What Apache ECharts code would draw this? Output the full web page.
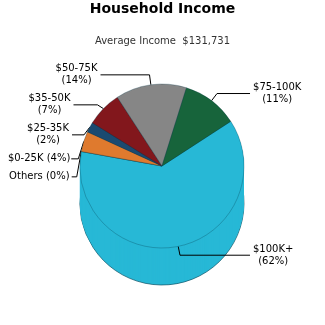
<!DOCTYPE html>
<html>
<head>
<meta charset="utf-8">
<script src="https://cdn.jsdelivr.net/npm/echarts@6/dist/echarts.min.js"></script>
<style>
  html, body { margin: 0; padding: 0; background: #ffffff; }
  #chart { width: 325px; height: 325px; }
</style>
</head>
<body>
<div id="chart"></div>
<script>
// Income brackets, in drawing order (clockwise from the upper right)
const categories = ['$100K+', 'Others', '$0-25K', '$25-35K', '$35-50K', '$50-75K', '$75-100K'];
const shares = [62, 0, 4, 2, 7, 14, 11];
const sliceColors = ['#27b8d6', '#9ab34a', '#df7a2e', '#1b4a70', '#82171c', '#868686', '#17643b'];
const chartTitle = 'Household Income';
const chartSubtitle = 'Average Income  $131,731';

const FONT = 'DejaVu Sans';
const cx = 162, cy = 166, radius = 82, depth = 37;

// leader line lengths per bracket: [radial part, horizontal part]
const leader = {
  '$100K+': [9, 70], 'Others': [4, 8], '$0-25K': [4, 8], '$25-35K': [4, 12],
  '$35-50K': [8, 24], '$50-75K': [10, 49], '$75-100K': [9, 33]
};
const oneLine = { 'Others': true, '$0-25K': true };

function sliceData(withLabels) {
  return categories.map((name, i) => {
    const item = { name: name, value: shares[i], itemStyle: { color: sliceColors[i] } };
    if (withLabels) {
      item.labelLine = { length: leader[name][0], length2: leader[name][1] };
    }
    return item;
  });
}

const series = [];
// Side wall: the same pie repeated at increasing depth, deepest first
for (let d = depth; d >= 1; d--) {
  const bottom = d === depth;
  series.push({
    type: 'pie',
    z: depth - d + 1,
    center: [cx, cy + d],
    radius: radius,
    startAngle: 33,
    clockwise: true,
    silent: true,
    animation: false,
    label: { show: false },
    labelLine: { show: false },
    itemStyle: bottom
      ? { borderColor: 'rgba(10,80,100,0.7)', borderWidth: 1 }
      : { borderWidth: 0 },
    data: sliceData(false)
  });
}
// Top face with labels
series.push({
  type: 'pie',
  z: depth + 2,
  center: [cx, cy],
  radius: radius,
  startAngle: 33,
  clockwise: true,
  animation: false,
  percentPrecision: 0,
  avoidLabelOverlap: true,
  itemStyle: { borderColor: 'rgba(0,50,70,0.35)', borderWidth: 0.8 },
  label: {
    show: true,
    position: 'outside',
    alignTo: 'none',
    overflow: 'none',
    distanceToLabelLine: 3,
    padding: [2, 0],
    color: '#000',
    fontFamily: FONT,
    fontSize: 10,
    lineHeight: 12,
    formatter: p => oneLine[p.name]
      ? `{t|${p.name} (${p.percent}%)}`
      : `{t|${p.name}}\n{t|(${p.percent}%)}`,
    rich: { t: { align: 'center', fontFamily: FONT, fontSize: 10, lineHeight: 12, color: '#000' } }
  },
  labelLine: { show: true, lineStyle: { color: '#000', width: 1 } },
  data: sliceData(true)
});

const chart = echarts.init(document.getElementById('chart'), null, { renderer: 'canvas' });
chart.setOption({
  backgroundColor: '#ffffff',
  animation: false,
  title: [
    { text: chartTitle, left: 'center', top: 2, padding: 0,
      textStyle: { fontFamily: FONT, fontSize: 14, fontWeight: 'bold', color: '#000' } },
    { text: chartSubtitle, left: 'center', top: 36, padding: 0,
      textStyle: { fontFamily: FONT, fontSize: 10, fontWeight: 'normal', color: '#333' } }
  ],
  series: series
});
</script>
</body>
</html>
